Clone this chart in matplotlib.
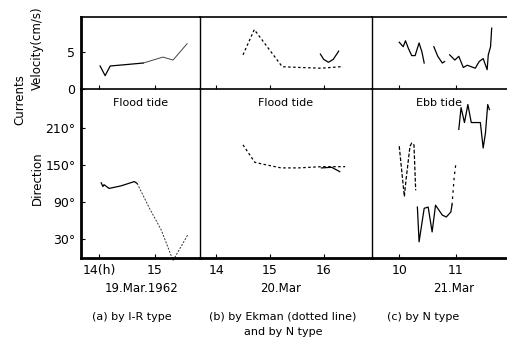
import numpy as np
import matplotlib
matplotlib.use("Agg")
import matplotlib.pyplot as plt

# ---------------- data ----------------
# (a) 19 Mar 1962, I-R type
a_vel_t = [14.02, 14.11, 14.20, 14.50, 14.79]
a_vel_v = [3.1, 1.8, 3.1, 3.3, 3.5]
a_vel2_t = [14.79, 15.14, 15.32, 15.57]
a_vel2_v = [3.5, 4.3, 3.9, 6.1]
a_dir_t = [14.04, 14.07, 14.09, 14.18, 14.39, 14.63, 14.68]
a_dir_d = [121, 115, 118, 112, 116, 123, 120]
a_dir2_t = [14.68, 14.90, 15.11, 15.32, 15.58]
a_dir2_d = [120, 80, 45, -4, 37]

# (b) 20 Mar, Ekman (dotted) and N type (solid)
b_ek_vel_t = [14.50, 14.71, 15.23, 15.57, 15.95, 16.32]
b_ek_vel_v = [4.6, 8.0, 3.0, 2.9, 2.8, 3.0]
b_n_vel_t = [15.94, 16.00, 16.09, 16.18, 16.28]
b_n_vel_v = [4.7, 4.0, 3.6, 4.0, 5.1]
b_ek_dir_t = [14.50, 14.72, 14.87, 15.21, 15.53, 15.96, 16.40]
b_ek_dir_d = [182, 154, 151, 145, 145, 147, 147]
b_n_dir_t = [15.96, 16.15, 16.30]
b_n_dir_d = [145, 146, 139]

# (c) 21 Mar, N type
c_vel_t = [10.00, 10.07, 10.11, 10.16, 10.22, 10.28, 10.35, 10.40, 10.44,
           np.nan, 10.61, 10.68, 10.76, 10.80, np.nan, 10.89, 10.98, 11.05,
           11.13, 11.20, 11.27, 11.34, 11.41, 11.48, 11.55, 11.57, 11.61, 11.63]
c_vel_v = [6.3, 5.7, 6.5, 5.5, 4.5, 4.5, 6.2, 5.0, 3.5,
           np.nan, 5.7, 4.4, 3.5, 3.7, np.nan, 4.6, 3.9, 4.4,
           2.9, 3.2, 3.0, 2.8, 3.7, 4.1, 2.6, 4.6, 5.7, 8.2]
c_dir1_t = [10.00, 10.09, 10.12, 10.19, 10.22, 10.26, 10.29]
c_dir1_d = [180, 99, 126, 180, 185, 182, 109]
c_dir2_t = [10.32, 10.35, 10.44, 10.51, 10.58, 10.64, 10.76, 10.83, 10.91, 10.93]
c_dir2_d = [82, 26, 80, 82, 42, 85, 69, 66, 74, 85]
c_dir3_t = [10.93, 10.97, 11.00]
c_dir3_d = [85, 131, 153]
c_dir4_t = [11.05, 11.09, 11.15, 11.21, 11.27, 11.43, 11.48, 11.52, 11.56, 11.59]
c_dir4_d = [207, 242, 218, 247, 218, 218, 177, 201, 247, 239]

xlims = [(13.68, 15.80), (13.70, 16.90), (9.52, 11.90)]
xticks = [[14, 15], [14, 15, 16], [10, 11]]
xticklabels = [["14(h)", "15"], ["14", "15", "16"], ["10", "11"]]
day_labels = ["19.Mar.1962", "20.Mar", "21.Mar"]
tide_labels = ["Flood tide", "Flood tide", "Ebb tide"]
captions = ["(a) by I-R type", "(b) by Ekman (dotted line)\nand by N type", "(c) by N type"]
vel_ticks = [0, 5]
dir_ticks = [30, 90, 150, 210]
dir_ticklabels = ["30°", "90°", "150°", "210°"]

# ---------------- figure ----------------
W, H = 507, 343
fig = plt.figure(figsize=(W / 100, H / 100), dpi=100)
plt.rcParams['font.family'] = ['DejaVu Sans']

def px(x0, y0, x1, y1):
    return [x0 / W, 1 - y1 / H, (x1 - x0) / W, (y1 - y0) / H]

cols = [(81, 200), (200, 372), (372, 507)]
top_y = (17, 89)
bot_y = (89, 258)

axt, axb = [], []
for i, (x0, x1) in enumerate(cols):
    at = fig.add_axes(px(x0, top_y[0], x1, top_y[1]))
    ab = fig.add_axes(px(x0, bot_y[0], x1, bot_y[1]))
    for ax in (at, ab):
        ax.set_xlim(*xlims[i])
        ax.set_facecolor('none')
        ax.spines['right'].set_visible(False)
        ax.spines['left'].set_linewidth(2.0 if i == 0 else 1.0)
        ax.tick_params(direction='in', length=3, width=0.8, labelsize=9, pad=4)
        ax.set_xticks(xticks[i])
    at.set_ylim(0, 9.7)
    ab.set_ylim(0, 272)
    at.spines['top'].set_linewidth(1.2)
    at.spines['bottom'].set_linewidth(1.2)
    ab.spines['top'].set_visible(False)
    ab.spines['bottom'].set_linewidth(2.0)
    at.set_xticklabels([])
    ab.set_xticklabels(xticklabels[i])
    if i == 0:
        at.set_yticks(vel_ticks)
        at.set_yticklabels([str(v) for v in vel_ticks])
        ab.set_yticks(dir_ticks)
        ab.set_yticklabels(dir_ticklabels)
    else:
        at.set_yticks([])
        ab.set_yticks([])
    ab.text(0.5, 0.92, tide_labels[i], transform=ab.transAxes, ha='center',
            va='center', fontsize=8)
    axt.append(at)
    axb.append(ab)

lw = 0.9
# (a)
axt[0].plot(a_vel_t, a_vel_v, color='black', lw=lw)
axt[0].plot(a_vel2_t, a_vel2_v, color='#444444', lw=0.7)
axb[0].plot(a_dir_t, a_dir_d, color='black', lw=lw)
axb[0].plot(a_dir2_t, a_dir2_d, color='#333333', lw=0.7, ls=(0, (2, 1.5)), clip_on=False)
# (b)
axt[1].plot(b_ek_vel_t, b_ek_vel_v, color='black', lw=lw, ls=(0, (2, 2)))
axt[1].plot(b_n_vel_t, b_n_vel_v, color='black', lw=lw)
axb[1].plot(b_ek_dir_t, b_ek_dir_d, color='black', lw=lw, ls=(0, (2, 2)))
axb[1].plot(b_n_dir_t, b_n_dir_d, color='black', lw=lw)
# (c)
axt[2].plot(c_vel_t, c_vel_v, color='black', lw=lw, clip_on=False)
axb[2].plot(c_dir1_t, c_dir1_d, color='black', lw=lw, ls=(0, (3, 1.5)))
axb[2].plot(c_dir2_t, c_dir2_d, color='black', lw=lw)
axb[2].plot(c_dir3_t, c_dir3_d, color='black', lw=lw, ls=(0, (2, 3)))
axb[2].plot(c_dir4_t, c_dir4_d, color='black', lw=lw)

# labels
def ftext(x, y, s, **kw):
    fig.text(x / W, 1 - y / H, s, **kw)

ftext(37, 48, "Velocity(cm/s)", rotation=90, ha='center', va='center', fontsize=8.5)
ftext(20, 100, "Currents", rotation=90, ha='center', va='center', fontsize=8.5)
ftext(37, 178, "Direction", rotation=90, ha='center', va='center', fontsize=8.5)

day_x = [142, 281, 454]
for x, s in zip(day_x, day_labels):
    ftext(x, 289, s, ha='center', va='center', fontsize=8.5)
cap_x = [132, 283, 423]
for x, s in zip(cap_x, captions):
    ftext(x, 312, s, ha='center', va='top', fontsize=8, linespacing=1.6)

fig.savefig("out.png", dpi=100)
